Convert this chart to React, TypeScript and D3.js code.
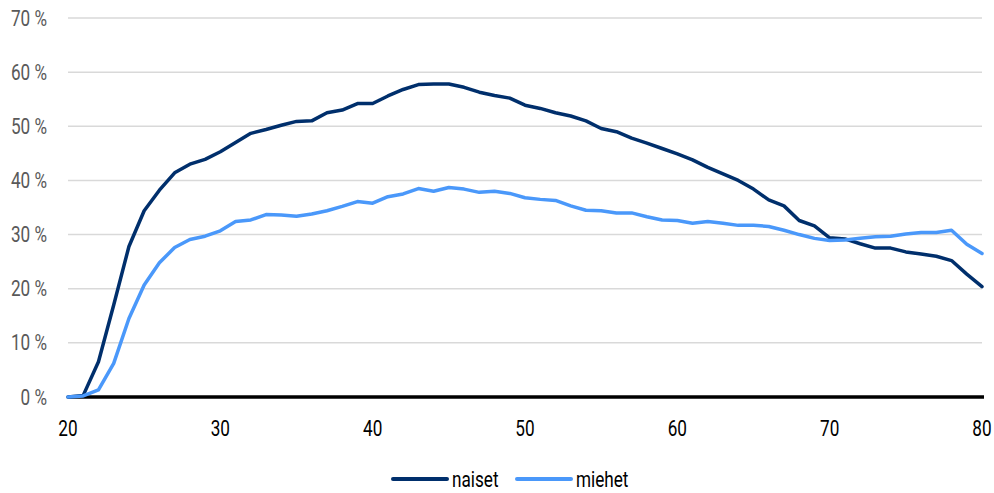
import React from "react";
import * as d3 from "d3";

const ages = d3.range(20, 81);
const naiset = [0, 0.3, 6.5, 17, 27.8, 34.4, 38.2, 41.4, 43.0, 43.9, 45.3, 47.0, 48.7, 49.4, 50.2, 50.9, 51.0, 52.5, 53.0, 54.2, 54.2, 55.6, 56.8, 57.7, 57.8, 57.8, 57.2, 56.3, 55.7, 55.2, 53.9, 53.3, 52.5, 51.9, 51.0, 49.6, 49.0, 47.8, 46.9, 45.9, 44.9, 43.8, 42.4, 41.2, 40.0, 38.4, 36.4, 35.3, 32.6, 31.6, 29.4, 29.2, 28.3, 27.5, 27.5, 26.8, 26.4, 26.0, 25.2, 22.7, 20.4];
const miehet = [0, 0.2, 1.3, 6.2, 14.5, 20.7, 24.8, 27.6, 29.1, 29.7, 30.7, 32.4, 32.7, 33.7, 33.6, 33.4, 33.8, 34.4, 35.2, 36.1, 35.8, 37.0, 37.5, 38.5, 38.0, 38.7, 38.4, 37.8, 38.0, 37.6, 36.8, 36.5, 36.3, 35.3, 34.5, 34.4, 34.0, 34.0, 33.3, 32.7, 32.6, 32.1, 32.4, 32.1, 31.7, 31.7, 31.5, 30.8, 30.0, 29.3, 28.9, 29.0, 29.3, 29.6, 29.7, 30.1, 30.4, 30.4, 30.8, 28.2, 26.5];
const yTicks = [0, 10, 20, 30, 40, 50, 60, 70];
const xTicks = [20, 30, 40, 50, 60, 70, 80];
const seriesNames = ["naiset", "miehet"];
const colors = ["#002f6c", "#4a98fa"];

const FONT = "Roboto, sans-serif";
const SX = 0.78;

function T({ x, y, anchor, fill, children }: { x: number; y: number; anchor: string; fill: string; children: React.ReactNode }) {
  return (
    <text transform={`translate(${x},${y}) scale(${SX},1)`} textAnchor={anchor} fontSize={22} fill={fill}>
      {children}
    </text>
  );
}

export default function App() {
  const W = 994, H = 493;
  const x = d3.scaleLinear().domain([20, 80]).range([68, 982]);
  const y = d3.scaleLinear().domain([0, 70]).range([397, 18]);
  const line = d3.line<number>().x((_, i) => x(ages[i])).y((d) => y(d));
  const data = [naiset, miehet];
  const legendX = [393, 517];
  return (
    <svg width={W} height={H} style={{ position: "absolute", left: 0, top: 0 }} fontFamily={FONT}>
      <rect width={W} height={H} fill="#fff" />
      {yTicks.map((t) => (
        <g key={t}>
          {t !== 0 && <line x1={68} x2={982} y1={y(t)} y2={y(t)} stroke="#d9d9d9" strokeWidth={1.5} />}
          <T x={47} y={y(t) + 7.5} anchor="end" fill="#595959">{`${t} %`}</T>
        </g>
      ))}
      <line x1={68} x2={984} y1={y(0)} y2={y(0)} stroke="#000" strokeWidth={3.5} />
      {xTicks.map((t) => (
        <T key={t} x={x(t)} y={436} anchor="middle" fill="#000">{t}</T>
      ))}
      {data.map((s, i) => (
        <path key={i} d={line(s) || ""} fill="none" stroke={colors[i]} strokeWidth={3.5} strokeLinejoin="round" strokeLinecap="round" />
      ))}
      {seriesNames.map((n, i) => {
        const lx = legendX[i];
        return (
          <g key={n}>
            <line x1={lx} x2={lx + 54} y1={479} y2={479} stroke={colors[i]} strokeWidth={4} strokeLinecap="round" />
            <T x={lx + 59} y={487} anchor="start" fill="#000">{n}</T>
          </g>
        );
      })}
    </svg>
  );
}
